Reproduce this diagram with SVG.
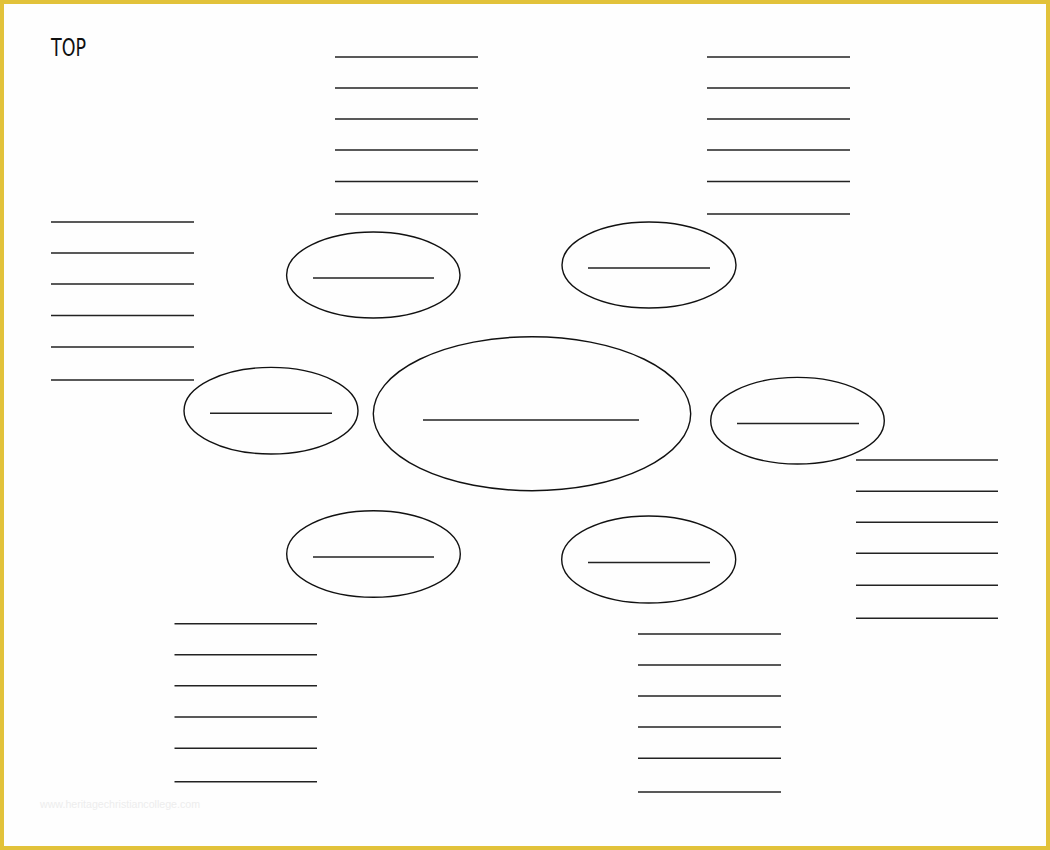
<svg xmlns="http://www.w3.org/2000/svg" width="1050" height="850" viewBox="0 0 1050 850">
  <style>
    .bubble { fill: none; stroke: #111; stroke-width: 1.4; }
    .blank { stroke: #222; stroke-width: 1.6; }
    .title { font-family: "DejaVu Sans", "Liberation Sans", sans-serif; font-size: 25px; fill: #111; }
    .wm { font-family: "Liberation Sans", sans-serif; font-size: 10px; fill: #ededed; }
  </style>
  <rect x="0" y="0" width="1050" height="850" fill="#fefefe"/>
  <rect x="2" y="2" width="1046" height="846" fill="none" stroke="#e2c23a" stroke-width="4"/>

  <text class="title" x="51" y="56" textLength="35" lengthAdjust="spacingAndGlyphs">TOP</text>

  <g id="center">
    <ellipse class="bubble" cx="532" cy="413.7" rx="158.7" ry="77"/>
    <line class="blank" x1="423" y1="420" x2="639" y2="420"/>
  </g>
  <g id="bubble-top-left">
    <ellipse class="bubble" cx="373.3" cy="275" rx="86.7" ry="43"/>
    <line class="blank" x1="313" y1="278" x2="434" y2="278"/>
  </g>
  <g id="bubble-top-right">
    <ellipse class="bubble" cx="649" cy="265" rx="87" ry="43"/>
    <line class="blank" x1="588" y1="268" x2="710" y2="268"/>
  </g>
  <g id="bubble-left">
    <ellipse class="bubble" cx="271" cy="410.7" rx="87" ry="43.3"/>
    <line class="blank" x1="210" y1="413.3" x2="332" y2="413.3"/>
  </g>
  <g id="bubble-right">
    <ellipse class="bubble" cx="797.5" cy="420.7" rx="86.8" ry="43.3"/>
    <line class="blank" x1="737" y1="423.5" x2="859" y2="423.5"/>
  </g>
  <g id="bubble-bottom-left">
    <ellipse class="bubble" cx="373.5" cy="554" rx="86.8" ry="43.3"/>
    <line class="blank" x1="313" y1="557" x2="434" y2="557"/>
  </g>
  <g id="bubble-bottom-right">
    <ellipse class="bubble" cx="648.7" cy="559.5" rx="87" ry="43.5"/>
    <line class="blank" x1="588" y1="562.5" x2="710" y2="562.5"/>
  </g>

  <g id="lines-top-center">
    <line class="blank" x1="335" y1="57" x2="478" y2="57"/>
    <line class="blank" x1="335" y1="88" x2="478" y2="88"/>
    <line class="blank" x1="335" y1="119" x2="478" y2="119"/>
    <line class="blank" x1="335" y1="150" x2="478" y2="150"/>
    <line class="blank" x1="335" y1="181.5" x2="478" y2="181.5"/>
    <line class="blank" x1="335" y1="214" x2="478" y2="214"/>
  </g>
  <g id="lines-top-right">
    <line class="blank" x1="707" y1="57" x2="850" y2="57"/>
    <line class="blank" x1="707" y1="88" x2="850" y2="88"/>
    <line class="blank" x1="707" y1="119" x2="850" y2="119"/>
    <line class="blank" x1="707" y1="150" x2="850" y2="150"/>
    <line class="blank" x1="707" y1="181.5" x2="850" y2="181.5"/>
    <line class="blank" x1="707" y1="214" x2="850" y2="214"/>
  </g>
  <g id="lines-left">
    <line class="blank" x1="51" y1="222" x2="194" y2="222"/>
    <line class="blank" x1="51" y1="253" x2="194" y2="253"/>
    <line class="blank" x1="51" y1="284" x2="194" y2="284"/>
    <line class="blank" x1="51" y1="315.5" x2="194" y2="315.5"/>
    <line class="blank" x1="51" y1="347" x2="194" y2="347"/>
    <line class="blank" x1="51" y1="380" x2="194" y2="380"/>
  </g>
  <g id="lines-right">
    <line class="blank" x1="856" y1="460" x2="998" y2="460"/>
    <line class="blank" x1="856" y1="491.3" x2="998" y2="491.3"/>
    <line class="blank" x1="856" y1="522.3" x2="998" y2="522.3"/>
    <line class="blank" x1="856" y1="553.3" x2="998" y2="553.3"/>
    <line class="blank" x1="856" y1="585.3" x2="998" y2="585.3"/>
    <line class="blank" x1="856" y1="618.3" x2="998" y2="618.3"/>
  </g>
  <g id="lines-bottom-left">
    <line class="blank" x1="174.5" y1="623.7" x2="317" y2="623.7"/>
    <line class="blank" x1="174.5" y1="654.7" x2="317" y2="654.7"/>
    <line class="blank" x1="174.5" y1="685.7" x2="317" y2="685.7"/>
    <line class="blank" x1="174.5" y1="717" x2="317" y2="717"/>
    <line class="blank" x1="174.5" y1="748.3" x2="317" y2="748.3"/>
    <line class="blank" x1="174.5" y1="781.7" x2="317" y2="781.7"/>
  </g>
  <g id="lines-bottom-right">
    <line class="blank" x1="638" y1="634" x2="781" y2="634"/>
    <line class="blank" x1="638" y1="665" x2="781" y2="665"/>
    <line class="blank" x1="638" y1="696" x2="781" y2="696"/>
    <line class="blank" x1="638" y1="727" x2="781" y2="727"/>
    <line class="blank" x1="638" y1="758.3" x2="781" y2="758.3"/>
    <line class="blank" x1="638" y1="792" x2="781" y2="792"/>
  </g>

  <g id="connectors"></g>

  <text class="wm" x="40" y="808" textLength="160" lengthAdjust="spacingAndGlyphs">www.heritagechristiancollege.com</text>
</svg>
